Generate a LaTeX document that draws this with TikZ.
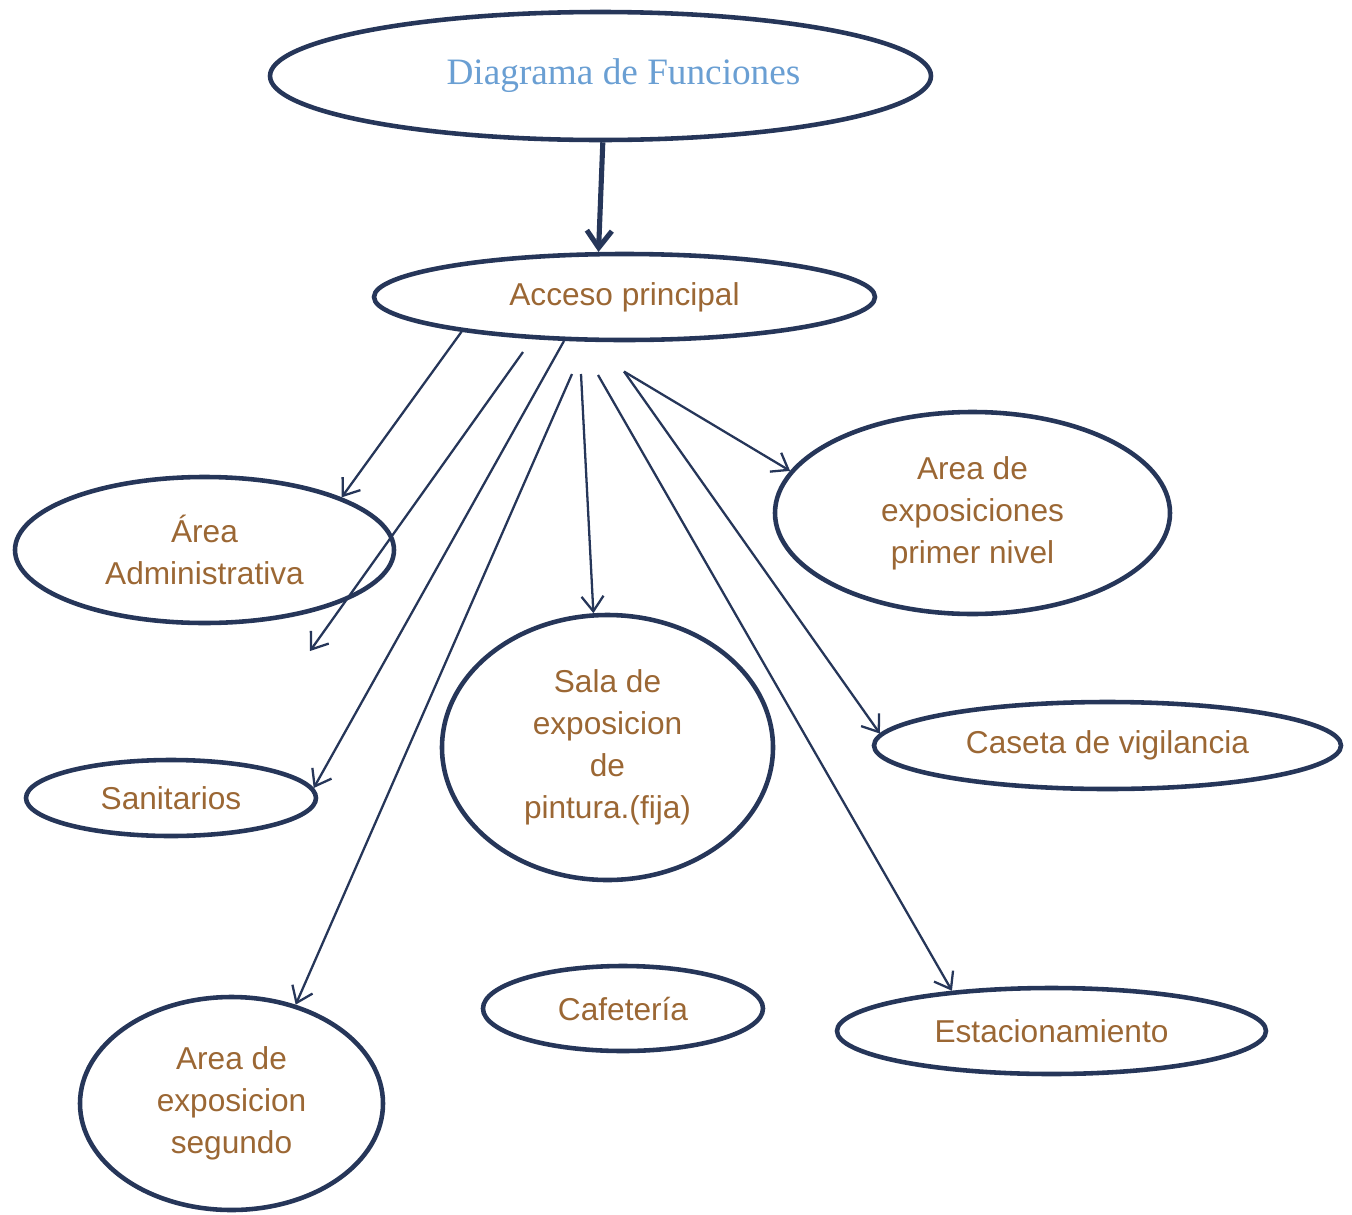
\documentclass[tikz,border=0pt]{standalone}
\usepackage{fontspec}
\setmainfont{Liberation Sans}
\newfontfamily\titlefont{Liberation Serif}
\usetikzlibrary{arrows.meta,shapes.geometric}
\definecolor{navy}{RGB}{38,54,89}
\definecolor{brun}{RGB}{155,103,52}
\definecolor{azul}{RGB}{106,159,211}

\begin{document}
\begin{tikzpicture}[
  elip/.style={ellipse,draw=navy,line width=2.6pt,inner sep=0pt,align=center,
    text=brun,font=\fontsize{18}{24}\selectfont},
  ar/.style={-{Straight Barb[length=3mm,width=4.4mm]},draw=navy,line width=1.3pt},
  arbig/.style={-{Straight Barb[length=3.4mm,width=5mm]},draw=navy,line width=2.9pt}]

  \useasboundingbox (0,0) rectangle (27.04,-24.30);

  \node[elip,minimum width=13.22cm,minimum height=2.56cm,text=azul,
    font=\titlefont\fontsize{21.2}{26}\selectfont] (titulo) at (12.01,-1.52) {\hspace*{0.92cm}Diagrama de Funciones};
  \node[elip,minimum width=10.02cm,minimum height=1.72cm] (acceso) at (12.49,-5.94) {Acceso principal};
  \node[elip,minimum width=7.58cm,minimum height=2.92cm] (admin) at (4.09,-11.00) {Área\\Administrativa};
  \node[elip,minimum width=7.90cm,minimum height=4.04cm] (primer) at (19.45,-10.26) {Area de\\exposiciones\\primer nivel};
  \node[elip,minimum width=5.80cm,minimum height=1.52cm] (sanit) at (3.42,-15.96) {Sanitarios};
  \node[elip,minimum width=6.62cm,minimum height=5.30cm] (sala) at (12.15,-14.95) {Sala de\\exposicion\\de\\pintura.(fija)};
  \node[elip,minimum width=9.34cm,minimum height=1.74cm] (caseta) at (22.15,-14.91) {Caseta de vigilancia};
  \node[elip,minimum width=5.60cm,minimum height=1.70cm] (cafe) at (12.46,-20.17) {Cafetería};
  \node[elip,minimum width=8.58cm,minimum height=1.72cm] (estac) at (21.03,-20.62) {Estacionamiento};
  \node[elip,minimum width=6.06cm,minimum height=4.26cm] (segundo) at (4.63,-22.07) {Area de\\exposicion\\segundo};

  % loose starting points below the access
  \coordinate (h1) at (10.46,-7.04);
  \coordinate (h2) at (6.20,-13.02);
  \coordinate (h3) at (11.44,-7.48);
  \coordinate (h4) at (11.62,-7.48);
  \coordinate (h5) at (11.96,-7.50);
  \coordinate (h6) at (12.48,-7.43);

  \draw[arbig] (titulo.272) -- (acceso.120);
  \draw[ar] (acceso.192) -- (admin.21);
  \draw[ar] (h1) -- (h2);
  \draw[ar] (acceso.216) -- (sanit.4);
  \draw[ar] (h3) -- (segundo.57);
  \draw[ar] (h4) -- (sala.96);
  \draw[ar] (h5) -- (estac.158);
  \draw[ar] (h6) -- (caseta.177);
  \draw[ar] (h6) -- (primer.167);
\end{tikzpicture}
\end{document}
